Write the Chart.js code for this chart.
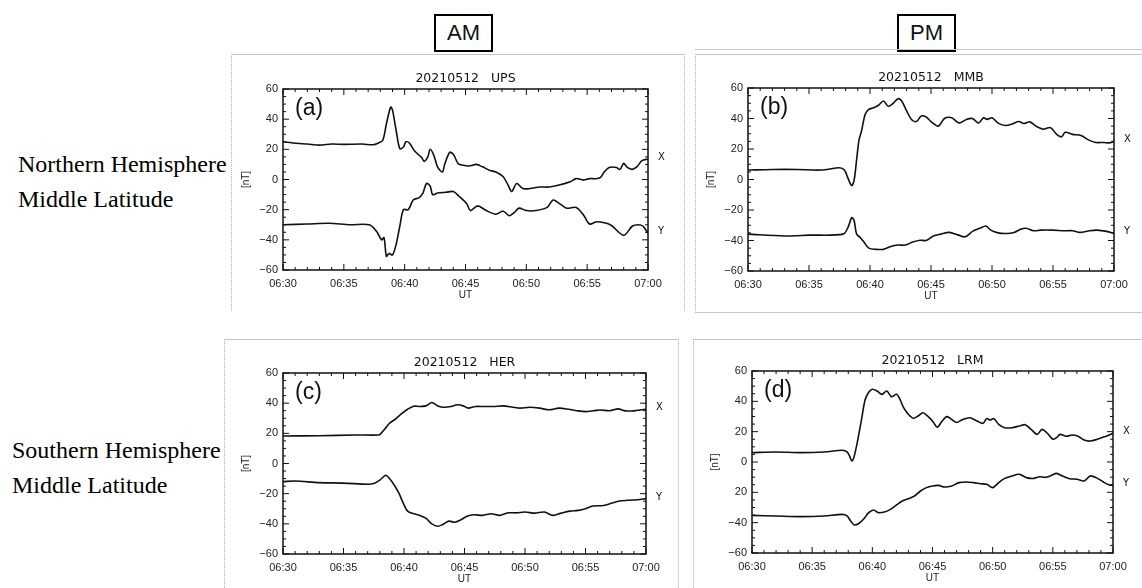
<!DOCTYPE html>
<html><head><meta charset="utf-8">
<script src="https://cdn.jsdelivr.net/npm/chart.js"></script>
<style>
body{margin:0;background:#fff;width:1142px;height:588px;position:relative;overflow:hidden;font-family:"Liberation Sans",Arial,sans-serif;}
.frame{position:absolute;box-sizing:border-box;}
canvas{position:absolute;}
.lab{position:absolute;font-family:"Liberation Serif","Times New Roman",serif;font-size:24px;line-height:35px;color:#000;white-space:nowrap;}
.box{position:absolute;border:2px solid #000;font-size:22px;line-height:34px;text-align:center;box-sizing:border-box;color:#111;}
</style></head>
<body>
<div class="box" style="left:434px;top:14px;width:59px;height:38px;">AM</div>
<div class="box" style="left:897px;top:14px;width:59px;height:38px;">PM</div>
<div class="frame" style="left:231px;top:54px;width:454px;height:257px;border-top:1px solid #c4c4c4;border-left:1px dotted #b0b0b0;border-right:1px dotted #b0b0b0;"></div>
<div class="frame" style="left:695px;top:49px;width:447px;height:1px;border-top:1px solid #c8c8c8;"></div>
<div class="frame" style="left:695px;top:54px;width:447px;height:259px;border-top:1px solid #c4c4c4;border-left:1px dotted #b0b0b0;border-bottom:1px solid #c8c8c8;"></div>
<div class="frame" style="left:224px;top:339px;width:455px;height:249px;border-top:1px solid #c4c4c4;border-left:1px dotted #b0b0b0;border-right:1px dotted #b0b0b0;"></div>
<div class="frame" style="left:693px;top:339px;width:449px;height:249px;border-top:1px solid #c4c4c4;border-left:1px dotted #b0b0b0;"></div>
<div class="lab" style="left:18px;top:147px;">Northern Hemisphere<br>Middle Latitude</div>
<div class="lab" style="left:12px;top:433px;">Southern Hemisphere<br>Middle Latitude</div>
<canvas id="ca"></canvas><canvas id="cb"></canvas><canvas id="cc"></canvas><canvas id="cd"></canvas>
<script>
// ---- tick labels ----
const timeLabels = ["06:30","06:35","06:40","06:45","06:50","06:55","07:00"];
const yLabelsStd = ["\u221260","\u221240","\u221220","0","20","40","60"];
const yLabelsLRM = ["\u221260","\u221240","20","0","20","40","60"];

// ---- data: [minutes after 06:30, nT] ----
const upsX = [[0,25],[1.1,24],[2,23.5],[3,22.8],[4,23.5],[5,23.3],[6.5,23.5],[7.4,23],[7.8,24],[8.2,26],[8.5,37],[8.85,48],[9.0,46],[9.3,32.5],[9.6,20.4],[9.9,21.5],[10.1,25],[10.4,24],[10.8,19],[11.4,14.5],[11.6,12],[11.9,15],[12.1,20],[12.4,16],[12.7,8.4],[13.1,5],[13.3,10.5],[13.7,18],[14.0,16.7],[14.4,10.5],[14.8,9.5],[15.3,9],[15.9,10],[16.4,8.4],[17.0,6],[17.5,5],[18.1,1.8],[18.5,-3.7],[18.8,-8],[19.2,-2.6],[19.7,-6],[20.3,-6],[21.1,-5],[21.9,-5],[22.7,-3.7],[23.6,-1.5],[24.1,0.6],[24.7,-0.4],[25.2,0.6],[25.7,0.5],[26.1,1.4],[26.4,5],[26.8,8],[27.4,8],[27.7,6.7],[28.0,10.7],[28.3,8],[28.7,6.7],[29.1,8.5],[29.5,12.5],[30,13.6]];
const upsY = [[0,-30],[2,-29.5],[3.8,-29],[5.5,-30],[7.1,-30],[7.7,-34.5],[8.1,-40],[8.3,-38.5],[8.5,-51],[8.7,-49],[9.0,-50],[9.3,-43],[9.6,-31],[9.9,-20],[10.3,-20],[10.7,-13.6],[11.2,-12],[11.5,-9],[11.8,-2.6],[12.1,-4.4],[12.3,-10],[12.7,-9],[13.4,-8.5],[14.0,-8],[14.5,-11.4],[15.1,-16],[15.4,-20.6],[16.0,-17.5],[16.7,-20.6],[17.5,-23],[18.1,-21],[18.6,-24],[19.0,-22],[19.4,-19],[20.0,-20.6],[20.8,-20.6],[21.7,-18.5],[22.2,-13.6],[22.7,-15.8],[23.3,-19],[24.1,-18.5],[24.7,-23.5],[25.2,-29.5],[25.8,-28],[26.9,-30],[28.0,-37],[28.7,-31],[29.2,-30],[29.6,-31],[30,-35.7]];
const mmbX = [[0,6.2],[2,6.6],[4,6.6],[6,6.2],[7.5,7.7],[7.9,6.2],[8.2,0.7],[8.5,-4],[8.7,-0.4],[8.9,12.8],[9.1,26],[9.3,31.6],[9.6,42.7],[9.9,46],[10.3,47],[10.7,48.7],[11.1,51.5],[11.5,48],[11.9,50],[12.3,53],[12.6,51.5],[13.0,45],[13.4,39.4],[13.8,38],[14.2,41.6],[14.6,41],[15.0,38],[15.6,35],[16.1,40],[16.7,40.5],[17.3,37],[17.9,39.4],[18.4,40],[18.9,37],[19.3,40.5],[19.6,39.4],[20.0,40.5],[20.5,37],[21.1,35.4],[21.7,36.5],[22.2,38],[22.6,36.7],[23.1,37.8],[23.6,35],[24.2,33],[24.8,34],[25.3,29.6],[25.7,28],[26.0,31],[26.6,29.6],[27.3,28.8],[27.9,26],[28.5,24.3],[29.2,24.3],[29.6,24],[30,25]];
const mmbY = [[0,-35.8],[3,-37],[5,-36.5],[7.8,-35.8],[8.2,-31.4],[8.5,-25],[8.7,-27],[8.9,-35.8],[9.2,-38],[9.5,-41],[9.9,-45],[10.5,-45.8],[11.1,-45.8],[11.7,-44],[12.3,-43],[12.9,-43],[13.5,-41],[14.1,-39.8],[14.6,-40],[15.2,-37],[15.8,-35.8],[16.5,-34.7],[17.2,-36.3],[17.8,-37.6],[18.4,-34],[19.0,-32],[19.5,-30.5],[19.9,-33.2],[20.5,-35],[21.2,-35.4],[21.8,-34.7],[22.4,-32.5],[22.8,-32],[23.4,-33.6],[24.0,-33.2],[25.0,-33.2],[25.9,-33.6],[26.6,-33.6],[27.2,-34.7],[28.0,-33.6],[28.6,-33.2],[29.4,-34],[30,-35.4]];
const herX = [[0,18.2],[3,18.4],[6,18.9],[7.9,18.9],[8.1,20],[8.4,22.7],[8.8,26.7],[9.3,29.5],[9.8,33],[10.3,36],[10.8,38],[11.3,37.8],[11.8,38.2],[12.3,40.4],[12.8,38.2],[13.3,37.3],[13.9,37.8],[14.4,38.9],[14.9,38.2],[15.3,36.7],[15.9,37.8],[16.6,37.8],[17.4,37.8],[18.2,38.2],[19.0,37.3],[19.6,36.7],[20.4,37.3],[21.2,36.7],[22.0,35.6],[22.8,36.7],[23.6,36],[24.3,35],[25.0,34.4],[25.7,35],[26.2,35.5],[27,35],[27.7,36.2],[28.3,34.9],[29,34.9],[29.5,35.5],[30,36]];
const herY = [[0,-12],[1,-11.6],[3,-12.7],[5,-13],[7,-13.8],[7.5,-13.3],[8,-11],[8.5,-7.8],[8.8,-10],[9.2,-14.4],[9.6,-20],[9.9,-25.6],[10.3,-31.6],[10.8,-33.3],[11.3,-34.4],[11.8,-36.2],[12.3,-40],[12.8,-41.6],[13.2,-40.4],[13.7,-38.2],[14.2,-38.9],[14.7,-37.3],[15.2,-35],[15.8,-34],[16.5,-34.4],[17.2,-33.3],[17.9,-34.4],[18.6,-32.7],[19.3,-32.7],[20.0,-32.2],[20.8,-32.9],[21.6,-32.2],[22.3,-34.4],[23.0,-32.9],[23.7,-31.6],[24.4,-31.1],[25.0,-30],[25.6,-28.2],[26.5,-27.8],[27.2,-26.2],[27.8,-24.9],[28.5,-24.4],[29.3,-24],[30,-23.3]];
const lrmX = [[0,6.2],[2,6.6],[4,6.2],[6,6.6],[7.5,7.7],[7.9,6.6],[8.1,4],[8.3,0.7],[8.5,4],[8.8,15],[9.1,28],[9.4,41],[9.7,46],[10.0,48],[10.4,46.8],[10.8,44.6],[11.2,46.8],[11.6,43],[12.0,44.6],[12.3,41.3],[12.6,35.8],[13.0,31.4],[13.4,28.8],[13.8,30.3],[14.2,32.5],[14.6,30.3],[15.0,27],[15.4,23],[15.8,27],[16.2,29.9],[16.6,28],[17.0,26],[17.5,28],[18.1,29.2],[18.7,27],[19.2,25.5],[19.5,28.6],[19.8,27.7],[20.1,28.6],[20.5,24.8],[21.0,22.6],[21.6,22.6],[22.2,23.7],[22.7,24.6],[23.2,21.5],[23.7,18.2],[24.1,21.5],[24.5,19.3],[25.0,15],[25.3,16],[25.6,18.2],[26.1,17],[26.6,17.8],[27.1,17],[27.6,14.5],[28.1,13.8],[28.7,15],[29.3,16.7],[30,18.9]];
const lrmY = [[0,-35.2],[2,-35.6],[4,-36],[6,-35.6],[7.5,-34.5],[7.9,-35.6],[8.2,-38.9],[8.5,-41.5],[8.9,-40.4],[9.3,-37.4],[9.7,-33.4],[10.1,-31.6],[10.5,-33.4],[11.0,-33],[11.5,-31.2],[12.0,-28.4],[12.5,-25.7],[13.0,-24.2],[13.5,-22.4],[14.0,-19.1],[14.5,-16.9],[15.0,-15.8],[15.5,-15.4],[16.0,-16.5],[16.6,-15.8],[17.2,-13.6],[17.8,-13.2],[18.4,-13.6],[19.0,-14.3],[19.5,-14.7],[20.0,-16.9],[20.5,-13.6],[21.0,-10.8],[21.6,-9.2],[22.2,-8.1],[22.8,-10.3],[23.4,-10.8],[23.9,-9.7],[24.4,-10.1],[24.9,-8.8],[25.3,-7.5],[25.8,-9.2],[26.4,-11],[27.0,-11.4],[27.6,-12.5],[28.1,-9.2],[28.6,-10.3],[29.2,-13.2],[29.7,-15.2],[30,-15.4]];

const boxTicks = {
  id:'boxTicks',
  afterDraw(chart, args, opts){
    const {ctx, chartArea:a, scales:{x,y}} = chart;
    ctx.save();
    ctx.strokeStyle='#111'; ctx.lineWidth=1.5;
    ctx.strokeRect(a.left, a.top, a.right-a.left, a.bottom-a.top);
    ctx.lineWidth=1;
    ctx.beginPath();
    for(let m=0;m<=30;m++){
      const px=x.getPixelForValue(m), L=(m%5===0)?6:3;
      ctx.moveTo(px,a.bottom); ctx.lineTo(px,a.bottom-L);
      ctx.moveTo(px,a.top); ctx.lineTo(px,a.top+L);
    }
    for(let v=-60;v<=60;v+=5){
      const py=y.getPixelForValue(v), L=(v%20===0)?6:3;
      ctx.moveTo(a.left,py); ctx.lineTo(a.left+L,py);
      ctx.moveTo(a.right,py); ctx.lineTo(a.right-L,py);
    }
    ctx.stroke();
    ctx.fillStyle='#111';
    ctx.textBaseline='middle'; ctx.textAlign='center';
    ctx.font='12.5px "DejaVu Sans"';
    ctx.fillText(opts.title,(a.left+a.right)/2,a.top-10);
    ctx.textAlign='left';
    ctx.font='23px "Liberation Sans"';
    ctx.fillText(opts.tag,a.left+12,a.top+20);
    ctx.font='10px "DejaVu Sans"';
    ctx.textBaseline='alphabetic';
    chart.data.datasets.forEach(ds=>{
      const last=ds.data[ds.data.length-1];
      ctx.fillText(ds.label,a.right+10,y.getPixelForValue(last.y)+1);
    });
    ctx.restore();
  }
};

function makePanel(id, cLeft, cTop, cW, cH, area, title, tag, xs, ys, yLabels){
  const cv=document.getElementById(id);
  cv.width=cW; cv.height=cH;
  cv.style.left=cLeft+'px'; cv.style.top=cTop+'px';
  const W=43, H=31;
  const pad={left:area.l-cLeft-W, top:area.t-cTop, right:cLeft+cW-area.r, bottom:cTop+cH-area.b-H};
  const toPts=arr=>arr.map(p=>({x:p[0],y:p[1]}));
  const dsOpts={borderColor:'#111',borderWidth:1.6,pointRadius:0,tension:0.3,fill:false};
  new Chart(cv,{
    type:'line',
    data:{datasets:[
      Object.assign({label:'X',data:toPts(xs)},dsOpts),
      Object.assign({label:'Y',data:toPts(ys)},dsOpts)
    ]},
    options:{
      responsive:false, animation:false,
      layout:{padding:pad},
      plugins:{legend:{display:false},tooltip:{enabled:false},boxTicks:{title,tag}},
      scales:{
        x:{type:'linear',min:0,max:30,
           grid:{display:false,drawTicks:false},border:{display:false},
           ticks:{stepSize:5,autoSkip:false,maxRotation:0,padding:7,color:'#222',
                  font:{family:'Liberation Sans',size:11},
                  callback:v=>timeLabels[Math.round(v/5)]},
           title:{display:true,text:'UT',color:'#222',font:{family:'Liberation Sans',size:10},padding:{top:0,bottom:0}},
           afterFit:s=>{s.height=H;}},
        y:{type:'linear',min:-60,max:60,
           grid:{display:false,drawTicks:false},border:{display:false},
           ticks:{stepSize:20,padding:5,color:'#222',
                  font:{family:'Liberation Sans',size:11},
                  callback:v=>yLabels[Math.round((v+60)/20)]},
           title:{display:true,text:'[nT]',color:'#222',font:{family:'Liberation Sans',size:10},padding:{top:0,bottom:0}},
           afterFit:s=>{s.width=W;}}
      }
    },
    plugins:[boxTicks]
  });
}

makePanel('ca',235,56,440,252,{l:283,t:89,r:648,b:270},'20210512   UPS','(a)',upsX,upsY,yLabelsStd);
makePanel('cb',700,56,442,254,{l:748,t:88,r:1114,b:271},'20210512   MMB','(b)',mmbX,mmbY,yLabelsStd);
makePanel('cc',230,342,445,246,{l:283,t:373,r:646,b:554},'20210512   HER','(c)',herX,herY,yLabelsStd);
makePanel('cd',700,342,442,246,{l:752,t:371,r:1113,b:553},'20210512   LRM','(d)',lrmX,lrmY,yLabelsLRM);
</script>
</body></html>
